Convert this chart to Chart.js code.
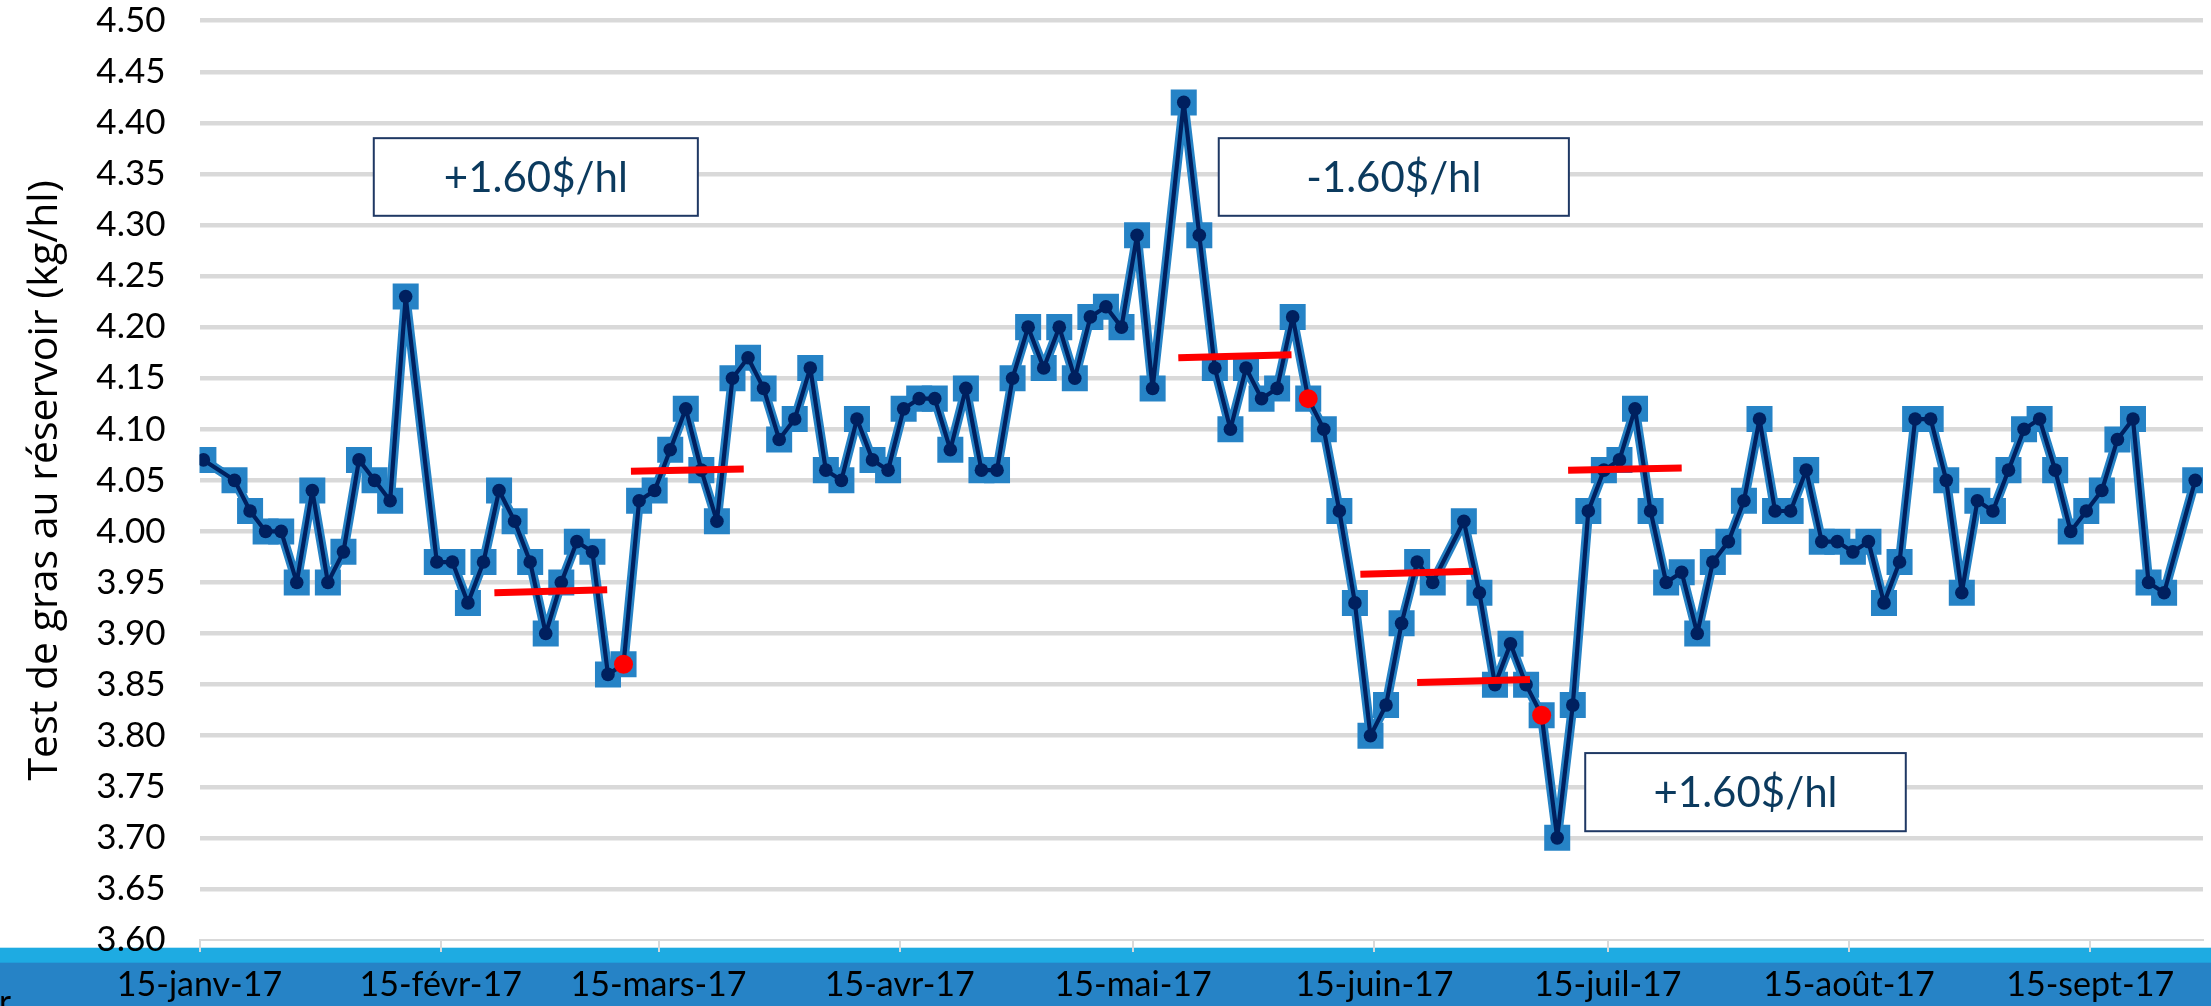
<!DOCTYPE html>
<html><head><meta charset="utf-8">
<script src="https://cdn.jsdelivr.net/npm/chart.js@4/dist/chart.umd.min.js"></script>
<style>html,body{margin:0;padding:0;background:#fff;overflow:hidden}canvas{display:block}</style>
</head><body>
<canvas id="c" width="2211" height="1006"></canvas>
<script>
// ---------- DATA ----------
const startDate = '2017-01-15';
const sampleDates = [
 '2017-01-15','2017-01-19','2017-01-21','2017-01-23','2017-01-25','2017-01-27','2017-01-29','2017-01-31',
 '2017-02-02','2017-02-04','2017-02-06','2017-02-08','2017-02-10','2017-02-14','2017-02-16','2017-02-18','2017-02-20','2017-02-22','2017-02-24','2017-02-26','2017-02-28',
 '2017-03-02','2017-03-04','2017-03-06','2017-03-08','2017-03-10','2017-03-12','2017-03-14','2017-03-16','2017-03-18','2017-03-20','2017-03-22','2017-03-24','2017-03-26','2017-03-28','2017-03-30',
 '2017-04-01','2017-04-03','2017-04-05','2017-04-07','2017-04-09','2017-04-11','2017-04-13','2017-04-15','2017-04-17','2017-04-19','2017-04-21','2017-04-23','2017-04-25','2017-04-27','2017-04-29',
 '2017-05-01','2017-05-03','2017-05-05','2017-05-07','2017-05-09','2017-05-11','2017-05-13','2017-05-15','2017-05-17','2017-05-21','2017-05-23','2017-05-25','2017-05-27','2017-05-29','2017-05-31',
 '2017-06-02','2017-06-04','2017-06-06','2017-06-08','2017-06-10','2017-06-12','2017-06-14','2017-06-16','2017-06-18','2017-06-20','2017-06-22','2017-06-26','2017-06-28','2017-06-30',
 '2017-07-02','2017-07-04','2017-07-06','2017-07-08','2017-07-10','2017-07-12','2017-07-14','2017-07-16','2017-07-18','2017-07-20','2017-07-22','2017-07-24','2017-07-26','2017-07-28','2017-07-30',
 '2017-08-01','2017-08-03','2017-08-05','2017-08-07','2017-08-09','2017-08-11','2017-08-13','2017-08-15','2017-08-17','2017-08-19','2017-08-21','2017-08-23','2017-08-25','2017-08-27','2017-08-29','2017-08-31',
 '2017-09-02','2017-09-04','2017-09-06','2017-09-08','2017-09-10','2017-09-12','2017-09-14','2017-09-16','2017-09-18','2017-09-20','2017-09-22','2017-09-24','2017-09-28'
];
const fatTest = [
 4.07,4.05,4.02,4.00,4.00,3.95,4.04,3.95,
 3.98,4.07,4.05,4.03,4.23,3.97,3.97,3.93,3.97,4.04,4.01,3.97,3.90,
 3.95,3.99,3.98,3.86,3.87,4.03,4.04,4.08,4.12,4.06,4.01,4.15,4.17,4.14,4.09,
 4.11,4.16,4.06,4.05,4.11,4.07,4.06,4.12,4.13,4.13,4.08,4.14,4.06,4.06,4.15,
 4.20,4.16,4.20,4.15,4.21,4.22,4.20,4.29,4.14,4.42,4.29,4.16,4.10,4.16,4.13,
 4.14,4.21,4.13,4.10,4.02,3.93,3.80,3.83,3.91,3.97,3.95,4.01,3.94,3.85,
 3.89,3.85,3.82,3.70,3.83,4.02,4.06,4.07,4.12,4.02,3.95,3.96,3.90,3.97,3.99,
 4.03,4.11,4.02,4.02,4.06,3.99,3.99,3.98,3.99,3.93,3.97,4.11,4.11,4.05,3.94,4.03,
 4.02,4.06,4.10,4.11,4.06,4.00,4.02,4.04,4.09,4.11,3.95,3.94,4.05
];
const highlightDates = ['2017-03-10','2017-06-06','2017-07-06'];
const highlightValues = [3.87, 4.13, 3.82];
// average segments (x in days from start of axis, y in kg/hl)
const avgSegX0 = [37.9, 55.45, 125.8, 149.2, 156.5, 175.9];
const avgSegX1 = [52.4, 69.95, 140.35, 163.7, 171.0, 190.5];
const avgSegY0 = [3.940, 4.059, 4.170, 3.958, 3.852, 4.060];
const avgSegY1 = [3.943, 4.061, 4.173, 3.961, 3.855, 4.062];
const tickDates = ['2017-01-15','2017-02-15','2017-03-15','2017-04-15','2017-05-15','2017-06-15','2017-07-15','2017-08-15','2017-09-15'];
const tickLabels = ['15-janv-17','15-févr-17','15-mars-17','15-avr-17','15-mai-17','15-juin-17','15-juil-17','15-août-17','15-sept-17'];
const noteTexts = ['+1.60$/hl','-1.60$/hl','+1.60$/hl'];
const yTitle = 'Test de gras au réservoir (kg/hl)';

// ---------- helpers ----------
const DAY = 86400000;
function dayIndex(s){ return Math.round((Date.parse(s+'T00:00:00Z') - Date.parse(startDate+'T00:00:00Z'))/DAY); }
const mainPts = sampleDates.map((d,i)=>({x: dayIndex(d)+0.5, y: fatTest[i]}));
const redPts = highlightDates.map((d,i)=>({x: dayIndex(d)+0.5, y: highlightValues[i]}));
const tickVals = tickDates.map(dayIndex);

// annotation placement in axis units
const notes = [
  {x0:22.4, x1:64.05, yT:4.385, yB:4.309},
  {x0:131.0, x1:176.0, yT:4.385, yB:4.309},
  {x0:178.1, x1:219.3, yT:3.783, yB:3.7065}
];

const NAVY = '#00205F';
const MID = '#2683C6';

const datasets = [
  {label:'hl', data: redPts, showLine:false, pointStyle:'circle', pointRadius:9.5, pointBackgroundColor:'#FF0000', pointBorderWidth:0, order:0},
];
avgSegX0.forEach((x0,i)=>{
  datasets.push({label:'avg'+i, data:[{x:x0,y:avgSegY0[i]},{x:avgSegX1[i],y:avgSegY1[i]}], borderColor:'#FF0000', borderWidth:7, pointRadius:0, borderCapStyle:'butt', order:1});
});
datasets.push({label:'inner', data: mainPts, borderColor:NAVY, borderWidth:4.2, borderJoinStyle:'round', pointStyle:'circle', pointRadius:6.8, pointBackgroundColor:NAVY, pointBorderWidth:0, tension:0, order:2});
datasets.push({label:'outer', data: mainPts, borderColor:MID, borderWidth:9.5, borderJoinStyle:'round', pointStyle:'rect', pointRadius:18.4, pointBackgroundColor:MID, pointBorderWidth:0, tension:0, order:3});

const deco = {
  id:'deco',
  beforeDraw(chart){
    const ctx = chart.ctx;
    ctx.save();
    ctx.fillStyle='#FFFFFF'; ctx.fillRect(0,0,chart.width,chart.height);
    ctx.fillStyle='#1EABE2'; ctx.fillRect(0,947.7,chart.width,15.5);
    ctx.fillStyle='#2683C6'; ctx.fillRect(0,962.7,chart.width,chart.height-962.7);
    ctx.fillStyle='#000';
    ctx.font='33px Lato';
    ctx.textBaseline='alphabetic';
    ctx.fillText('r',-1,1013);
    ctx.restore();
  },
  afterDatasetsDraw(chart){
    const ctx = chart.ctx, xs = chart.scales.x, ys = chart.scales.y;
    ctx.save();
    notes.forEach((n,i)=>{
      const l = xs.getPixelForValue(n.x0), r = xs.getPixelForValue(n.x1);
      const t = ys.getPixelForValue(n.yT), b = ys.getPixelForValue(n.yB);
      ctx.fillStyle='#FFFFFF'; ctx.fillRect(l,t,r-l,b-t);
      ctx.strokeStyle='#1F3864'; ctx.lineWidth=2; ctx.strokeRect(l,t,r-l,b-t);
      ctx.fillStyle='#0B3A5E'; ctx.font='42px Lato'; ctx.textAlign='center'; ctx.textBaseline='middle';
      ctx.fillText(noteTexts[i],(l+r)/2,(t+b)/2+1);
    });
    ctx.restore();
  }
};

new Chart(document.getElementById('c'), {
  type:'line',
  data:{datasets},
  options:{
    responsive:false, animation:false,
    layout:{autoPadding:false, padding:{top:20.7,right:8,left:0,bottom:0}},
    plugins:{legend:{display:false}, tooltip:{enabled:false}},
    elements:{line:{tension:0}},
    scales:{
      x:{type:'linear', min:0, max:257.5,
        afterBuildTicks(s){ s.ticks = tickVals.map(v=>({value:v})); },
        afterFit(s){ s.height = 66; s.paddingLeft = 0; s.paddingRight = 0; },
        ticks:{autoSkip:false, maxRotation:0, color:'#000', font:{family:'Lato', size:34}, padding:13,
          callback:(v,i)=>tickLabels[i]},
        grid:{display:true, drawOnChartArea:false, drawTicks:true, tickLength:12, color:'#D9D9D9', lineWidth:2},
        border:{display:true, color:'#D9D9D9', width:2}
      },
      y:{min:3.6, max:4.5,
        afterFit(s){ s.width = 199.5; s.paddingTop = 0; s.paddingBottom = 0; },
        ticks:{stepSize:0.05, color:'#000', font:{family:'Lato', size:35}, padding:34,
          callback:(v)=>Number(v).toFixed(2)},
        grid:{color:'#D9D9D9', lineWidth:(c)=> c.index===0 ? 0 : 4.5, drawTicks:false},
        border:{display:false},
        title:{display:true, text:yTitle, color:'#000', font:{family:'Open Sans', size:41}, padding:{top:21,bottom:0}}
      }
    }
  },
  plugins:[deco]
});
</script>
</body></html>
